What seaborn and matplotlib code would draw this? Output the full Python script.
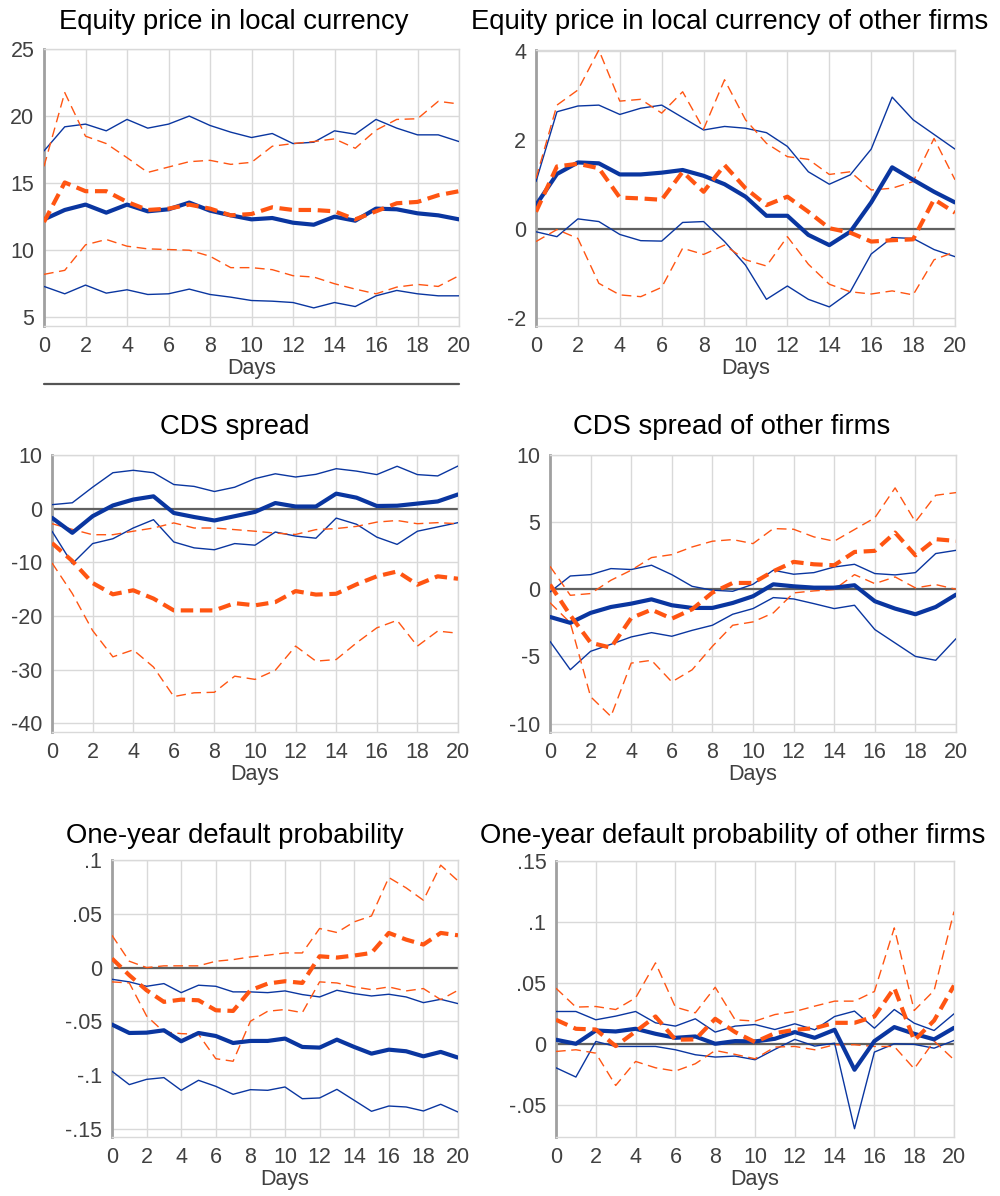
import numpy as np
import pandas as pd
import matplotlib
matplotlib.use("Agg")
import matplotlib.pyplot as plt
from matplotlib.lines import Line2D
import seaborn as sns

sns.set_style("white")
plt.rcParams['font.family'] = ['Liberation Sans', 'DejaVu Sans']

days = list(range(21))

# ---- Panel 1: Equity price in local currency
eq_blue_mid = [12.3, 13.0, 13.4, 12.8, 13.4, 12.9, 13.05, 13.55, 12.95, 12.6, 12.3, 12.4, 12.05, 11.9, 12.5, 12.2, 13.1, 13.05, 12.75, 12.6, 12.3]
eq_blue_hi = [17.4, 19.2, 19.4, 18.9, 19.75, 19.1, 19.4, 20.0, 19.3, 18.8, 18.4, 18.7, 17.95, 18.05, 18.9, 18.65, 19.75, 19.1, 18.6, 18.6, 18.1]
eq_blue_lo = [7.3, 6.75, 7.4, 6.8, 7.05, 6.7, 6.75, 7.1, 6.7, 6.5, 6.25, 6.2, 6.1, 5.7, 6.1, 5.8, 6.6, 7.0, 6.75, 6.6, 6.6]
eq_or_mid = [12.1, 15.05, 14.4, 14.4, 13.6, 13.0, 13.1, 13.4, 13.1, 12.6, 12.7, 13.2, 13.0, 13.0, 12.9, 12.3, 12.9, 13.5, 13.6, 14.1, 14.4]
eq_or_hi = [16.25, 21.75, 18.5, 17.95, 16.9, 15.8, 16.2, 16.6, 16.7, 16.4, 16.55, 17.75, 17.95, 18.1, 18.3, 17.6, 18.95, 19.75, 19.8, 21.1, 20.9]
eq_or_lo = [8.2, 8.5, 10.4, 10.8, 10.3, 10.1, 10.05, 10.0, 9.55, 8.7, 8.7, 8.55, 8.1, 8.0, 7.5, 7.1, 6.75, 7.25, 7.45, 7.3, 8.1]

# ---- Panel 2: Equity price of other firms
eqo_blue_mid = [0.53, 1.23, 1.49, 1.47, 1.22, 1.22, 1.26, 1.32, 1.19, 1.0, 0.72, 0.29, 0.29, -0.14, -0.37, -0.07, 0.59, 1.38, 1.1, 0.83, 0.59]
eqo_blue_hi = [1.06, 2.63, 2.76, 2.78, 2.57, 2.71, 2.78, 2.5, 2.22, 2.3, 2.26, 2.16, 1.85, 1.28, 1.0, 1.21, 1.79, 2.96, 2.45, 2.12, 1.79]
eqo_blue_lo = [-0.07, -0.18, 0.22, 0.16, -0.13, -0.27, -0.28, 0.14, 0.16, -0.29, -0.82, -1.59, -1.29, -1.59, -1.76, -1.42, -0.57, -0.2, -0.22, -0.47, -0.63]
eqo_or_mid = [0.38, 1.4, 1.46, 1.36, 0.7, 0.68, 0.65, 1.28, 0.83, 1.43, 0.91, 0.53, 0.72, 0.38, 0.01, -0.09, -0.29, -0.26, -0.24, 0.66, 0.36]
eqo_or_hi = [1.13, 2.78, 3.12, 4.02, 2.87, 2.91, 2.6, 3.08, 2.24, 3.35, 2.45, 1.92, 1.62, 1.56, 1.22, 1.28, 0.87, 0.91, 1.06, 2.03, 1.1]
eqo_or_lo = [-0.29, -0.02, -0.22, -1.23, -1.49, -1.53, -1.32, -0.44, -0.58, -0.37, -0.7, -0.84, -0.18, -0.8, -1.25, -1.42, -1.47, -1.4, -1.49, -0.7, -0.52]

# ---- Panel 3: CDS spread
cds_blue_mid = [-1.7, -4.5, -1.4, 0.6, 1.7, 2.3, -0.8, -1.55, -2.2, -1.4, -0.6, 1.05, 0.4, 0.4, 2.8, 2.05, 0.5, 0.55, 0.95, 1.35, 2.65]
cds_blue_hi = [0.75, 1.1, 4.0, 6.7, 7.15, 6.7, 4.5, 4.15, 3.2, 4.0, 5.6, 6.5, 5.9, 6.4, 7.45, 7.0, 6.35, 7.9, 6.35, 6.1, 7.95]
cds_blue_lo = [-4.2, -10.25, -6.5, -5.6, -3.6, -2.05, -6.2, -7.3, -7.65, -6.5, -6.8, -4.35, -5.1, -5.5, -1.75, -2.9, -5.3, -6.65, -4.2, -3.4, -2.6]
cds_or_mid = [-6.4, -9.75, -13.85, -15.95, -15.2, -16.75, -18.95, -18.95, -18.95, -17.6, -18.0, -17.4, -15.35, -16.0, -15.85, -14.1, -12.6, -11.7, -14.15, -12.6, -13.05]
cds_or_hi = [-2.8, -3.85, -4.85, -4.85, -4.2, -3.6, -2.65, -3.6, -3.6, -3.9, -4.2, -4.55, -4.8, -3.9, -3.7, -3.3, -2.5, -2.2, -2.8, -2.6, -2.8]
cds_or_lo = [-10.1, -15.8, -22.7, -27.6, -26.3, -29.5, -35.0, -34.3, -34.2, -31.2, -31.8, -30.1, -25.6, -28.4, -28.1, -25.0, -22.2, -20.8, -25.6, -22.8, -23.2]

# ---- Panel 4: CDS spread of other firms
cdso_blue_mid = [-2.06, -2.5, -1.76, -1.32, -1.07, -0.75, -1.19, -1.39, -1.39, -1.02, -0.52, 0.37, 0.22, 0.12, 0.12, 0.3, -0.89, -1.44, -1.86, -1.32, -0.4]
cdso_blue_hi = [-0.2, 0.99, 1.09, 1.54, 1.47, 1.79, 1.09, 0.22, -0.07, -0.15, 0.37, 1.42, 1.12, 1.24, 1.66, 1.86, 1.17, 1.07, 1.24, 2.66, 2.9]
cdso_blue_lo = [-3.88, -5.99, -4.62, -4.1, -3.55, -3.23, -3.5, -3.06, -2.68, -1.86, -1.44, -0.62, -0.72, -1.07, -1.44, -1.19, -3.0, -4.0, -5.0, -5.29, -3.68]
cdso_or_mid = [0.35, -1.94, -3.98, -4.35, -2.14, -1.52, -2.19, -1.49, -0.25, 0.47, 0.47, 1.34, 2.04, 1.86, 1.79, 2.78, 2.86, 4.22, 2.53, 3.73, 3.6]
cdso_or_hi = [1.71, -0.45, -0.32, 0.67, 1.42, 2.36, 2.58, 3.15, 3.58, 3.7, 3.4, 4.52, 4.47, 3.9, 3.58, 4.45, 5.32, 7.55, 5.02, 7.0, 7.2]
cdso_or_lo = [-1.0, -2.5, -8.0, -9.47, -5.5, -5.29, -6.9, -6.0, -4.25, -2.68, -2.43, -1.76, -0.27, -0.12, -0.02, 1.09, 0.42, 0.92, 0.1, 0.35, 0.0]

# ---- Panel 5: One-year default probability
pd_blue_mid = [-0.053, -0.0608, -0.0605, -0.0583, -0.0685, -0.0608, -0.0636, -0.0701, -0.0682, -0.0682, -0.066, -0.0738, -0.0744, -0.067, -0.0738, -0.08, -0.0763, -0.0778, -0.0825, -0.0784, -0.0837]
pd_blue_hi = [-0.0109, -0.0133, -0.0174, -0.0149, -0.0233, -0.0164, -0.0174, -0.0226, -0.0226, -0.0233, -0.0217, -0.0251, -0.0273, -0.0211, -0.0242, -0.0264, -0.0248, -0.0273, -0.0326, -0.0295, -0.0335]
pd_blue_lo = [-0.0964, -0.1088, -0.1039, -0.1023, -0.1141, -0.1048, -0.1104, -0.1178, -0.1135, -0.1141, -0.111, -0.1219, -0.1212, -0.1132, -0.1234, -0.1336, -0.1287, -0.1296, -0.1333, -0.1271, -0.1343]
pd_or_mid = [0.0084, -0.0071, -0.0211, -0.0319, -0.0298, -0.0304, -0.0397, -0.0403, -0.0211, -0.0149, -0.0127, -0.0143, 0.0105, 0.0093, 0.0112, 0.0136, 0.0322, 0.026, 0.0214, 0.0322, 0.03]
pd_or_hi = [0.03, 0.0059, 0.0, 0.0016, 0.0016, 0.0016, 0.0059, 0.0074, 0.0099, 0.0115, 0.0136, 0.0136, 0.0363, 0.0326, 0.0425, 0.048, 0.0837, 0.0741, 0.0626, 0.0952, 0.0806]
pd_or_lo = [-0.0133, -0.0143, -0.045, -0.0598, -0.0614, -0.062, -0.0847, -0.0871, -0.0499, -0.0406, -0.039, -0.0419, -0.0133, -0.0143, -0.018, -0.0205, -0.018, -0.0217, -0.0195, -0.0298, -0.0211]

# ---- Panel 6: One-year default probability of other firms
pdo_blue_mid = [0.0033, 0.0, 0.0109, 0.0101, 0.0123, 0.0082, 0.0049, 0.006, 0.0, 0.0022, 0.0019, 0.0041, 0.0096, 0.0049, 0.0115, -0.0213, 0.0022, 0.0137, 0.0082, 0.0036, 0.0131]
pdo_blue_hi = [0.0265, 0.0265, 0.0197, 0.0227, 0.0265, 0.0172, 0.0145, 0.0205, 0.0096, 0.0145, 0.0158, 0.0117, 0.0164, 0.0115, 0.0224, 0.0268, 0.0128, 0.0281, 0.0169, 0.0109, 0.0246]
pdo_blue_lo = [-0.0197, -0.0273, 0.0019, -0.0022, -0.0022, -0.0022, -0.0049, -0.009, -0.0109, -0.0101, -0.0131, -0.0046, 0.0036, -0.0019, 0.0005, -0.0697, -0.0068, 0.0, -0.0005, -0.0036, 0.0027]
pdo_or_mid = [0.0197, 0.0123, 0.0117, -0.0019, 0.0101, 0.0224, 0.0033, 0.0036, 0.0205, 0.0096, 0.0014, 0.0087, 0.0115, 0.0128, 0.0172, 0.0172, 0.0224, 0.0459, 0.0027, 0.0191, 0.0478]
pdo_or_hi = [0.0456, 0.0301, 0.0306, 0.0281, 0.0377, 0.0664, 0.0301, 0.0254, 0.0464, 0.0197, 0.0186, 0.024, 0.0265, 0.0309, 0.035, 0.035, 0.0429, 0.0951, 0.0273, 0.0437, 0.1085]
pdo_or_lo = [-0.0063, -0.0049, -0.0077, -0.0342, -0.0145, -0.0197, -0.0224, -0.0164, -0.0055, -0.0087, -0.0123, -0.0027, -0.0022, -0.0049, -0.0008, -0.0008, -0.0022, -0.0022, -0.0205, 0.0022, -0.0131]

titles = ["Equity price in local currency", "Equity price in local currency of other firms",
          "CDS spread", "CDS spread of other firms",
          "One-year default probability", "One-year default probability of other firms"]
x_ticks = list(range(0, 21, 2))
y_ticks = [[5, 10, 15, 20, 25], [-2, 0, 2, 4], [-40, -30, -20, -10, 0, 10], [-10, -5, 0, 5, 10],
           [-0.15, -0.1, -0.05, 0, 0.05, 0.1], [-0.05, 0, 0.05, 0.1, 0.15]]
y_ticklabels = [["5", "10", "15", "20", "25"], ["-2", "0", "2", "4"], ["-40", "-30", "-20", "-10", "0", "10"],
                ["-10", "-5", "0", "5", "10"], ["-.15", "-.1", "-.05", "0", ".05", ".1"], ["-.05", "0", ".05", ".1", ".15"]]

panels = [
    (eq_blue_mid, eq_blue_hi, eq_blue_lo, eq_or_mid, eq_or_hi, eq_or_lo),
    (eqo_blue_mid, eqo_blue_hi, eqo_blue_lo, eqo_or_mid, eqo_or_hi, eqo_or_lo),
    (cds_blue_mid, cds_blue_hi, cds_blue_lo, cds_or_mid, cds_or_hi, cds_or_lo),
    (cdso_blue_mid, cdso_blue_hi, cdso_blue_lo, cdso_or_mid, cdso_or_hi, cdso_or_lo),
    (pd_blue_mid, pd_blue_hi, pd_blue_lo, pd_or_mid, pd_or_hi, pd_or_lo),
    (pdo_blue_mid, pdo_blue_hi, pdo_blue_lo, pdo_or_mid, pdo_or_hi, pdo_or_lo),
]

# layout (pixels): left, top, right, bottom
W, H = 1000, 1196
boxes = [(44, 49, 459, 326), (536, 50, 955, 326), (52, 455, 458, 732), (550, 455, 956, 732),
         (112, 860, 458, 1137), (556, 861, 954, 1137)]
ylims = [(4.35, 25.0), (-2.19, 4.02), (-41.6, 10.0), (-10.63, 10.0), (-0.1575, 0.1), (-0.0765, 0.15)]
title_pos = [(234, 29), (730, 29), (235, 434), (732, 434), (235, 843), (733, 843)]
has_zero = [False, True, True, True, True, True]

BLUE = "#0a36a0"
ORANGE = "#ff5512"
TXT = "#404040"

fig = plt.figure(figsize=(W / 100, H / 100), dpi=100)

for i, (series, box) in enumerate(zip(panels, boxes)):
    l, t, r, b = box
    ax = fig.add_axes([l / W, 1 - b / H, (r - l) / W, (b - t) / H])
    bm, bh, bl, om, oh, ol = series
    ax.set_xlim(0, 20)
    ax.set_ylim(*ylims[i])
    ax.set_xticks(x_ticks)
    ax.set_yticks(y_ticks[i])
    ax.set_yticklabels(y_ticklabels[i])
    ax.grid(True, color="#d9d9d9", lw=1.0)
    ax.set_axisbelow(True)
    if has_zero[i]:
        ax.axhline(0, color="#606060", lw=1.6, zorder=2)
    # blue solid bands and mean
    sns.lineplot(x=days, y=bh, ax=ax, color=BLUE, lw=1.0, zorder=3)
    sns.lineplot(x=days, y=bl, ax=ax, color=BLUE, lw=1.0, zorder=3)
    sns.lineplot(x=days, y=bm, ax=ax, color=BLUE, lw=3.0, zorder=4)
    # orange dashed bands and mean
    for arr in (oh, ol):
        sns.lineplot(x=days, y=arr, ax=ax, color=ORANGE, lw=1.0, zorder=3)
        ax.lines[-1].set_dashes([7, 4])
    sns.lineplot(x=days, y=om, ax=ax, color=ORANGE, lw=3.0, zorder=5)
    ax.lines[-1].set_dashes([3.0, 1.6])
    ax.set_xlim(0, 20)
    ax.set_ylim(*ylims[i])
    ax.set_ylabel("")
    ax.set_xlabel("Days", fontsize=15.5, color=TXT, labelpad=1)
    ax.tick_params(axis="both", length=0, labelsize=15.5, labelcolor=TXT)
    ax.tick_params(axis="x", pad=7)
    ax.tick_params(axis="y", pad=7)
    for s in ["top", "right", "bottom"]:
        ax.spines[s].set_color("#d9d9d9")
        ax.spines[s].set_linewidth(1.0)
    ax.spines["left"].set_color("#a0a0a0")
    ax.spines["left"].set_linewidth(2.0)
    tx, ty = title_pos[i]
    fig.text(tx / W, 1 - ty / H, titles[i], ha="center", va="baseline", fontsize=19.8, color="black")

# stray rule below first panel
fig.add_artist(Line2D([44 / W, 459 / W], [1 - 384 / H, 1 - 384 / H], transform=fig.transFigure,
                      color="#555555", lw=1.6))

fig.savefig("out.png", dpi=100, facecolor="white")
